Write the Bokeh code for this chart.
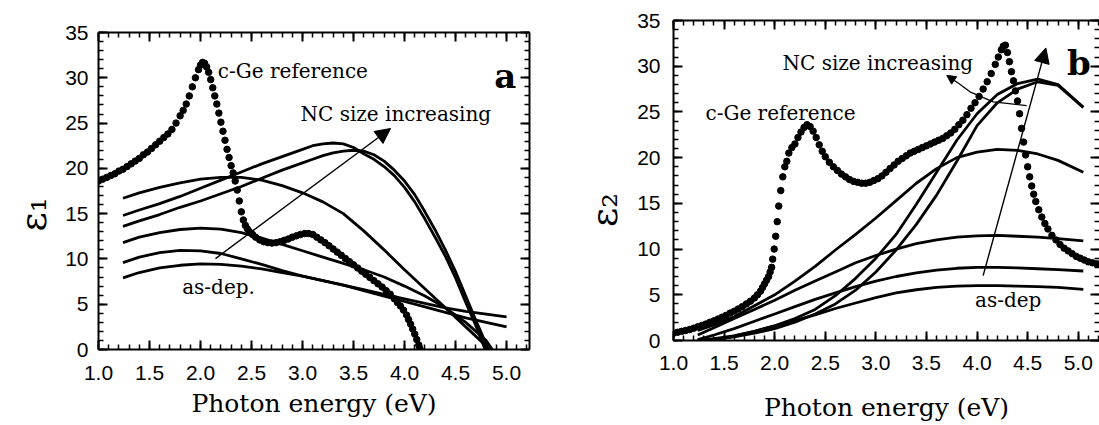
import numpy as np
from bokeh.plotting import figure
from bokeh.layouts import row
from bokeh.models import (FixedTicker, LinearAxis, NumeralTickFormatter, Range1d,
                          Label, Arrow, NormalHead, CustomJSTickFormatter)
from bokeh.embed import file_html
from bokeh.resources import INLINE

# ---------------- panel a : epsilon_1 ----------------
ref1_E = [1.00, 1.04, 1.08, 1.12, 1.16, 1.20, 1.24, 1.28, 1.32, 1.36, 1.40, 1.44, 1.48, 1.52,
          1.56, 1.60, 1.64, 1.68, 1.72, 1.76, 1.80, 1.83, 1.86, 1.89, 1.92, 1.95, 1.98, 2.00,
          2.02, 2.04, 2.06, 2.08, 2.10, 2.12, 2.14, 2.16, 2.18, 2.20, 2.22, 2.24, 2.26, 2.28,
          2.30, 2.32, 2.34, 2.36, 2.38, 2.40, 2.42, 2.44, 2.46, 2.48, 2.51, 2.54, 2.58, 2.62,
          2.66, 2.70, 2.74, 2.78, 2.82, 2.86, 2.90, 2.94, 2.98, 3.02, 3.06, 3.10, 3.14, 3.18,
          3.22, 3.26, 3.30, 3.34, 3.38, 3.42, 3.46, 3.50, 3.54, 3.58, 3.62, 3.66, 3.70, 3.74,
          3.78, 3.82, 3.86, 3.90, 3.93, 3.96, 3.99, 4.02, 4.04, 4.06, 4.08, 4.10, 4.12, 4.14, 4.15]
ref1_v = [18.6, 18.8, 19.0, 19.2, 19.4, 19.7, 19.9, 20.2, 20.5, 20.8, 21.1, 21.5, 21.8, 22.2,
          22.6, 23.0, 23.4, 23.8, 24.3, 25.0, 25.8, 26.4, 27.1, 28.0, 29.0, 30.0, 30.9, 31.4,
          31.7, 31.6, 31.2, 30.6, 29.8, 28.9, 28.0, 27.1, 26.1, 25.1, 24.1, 23.1, 22.1, 21.2,
          20.3, 19.5, 18.6, 17.6, 16.4, 15.2, 14.3, 13.7, 13.3, 13.0, 12.7, 12.4, 12.1, 11.9,
          11.8, 11.75, 11.8, 11.9, 12.05, 12.2, 12.4, 12.55, 12.7, 12.8, 12.8, 12.7, 12.4, 12.1,
          11.8, 11.45, 11.1, 10.75, 10.4, 10.05, 9.7, 9.35, 9.0, 8.65, 8.3, 7.95, 7.6, 7.25,
          6.9, 6.5, 6.1, 5.6, 5.2, 4.8, 4.35, 3.8, 3.3, 2.8, 2.25, 1.7, 1.1, 0.5, 0.1]

a_E = [1.24, 1.4, 1.6, 1.8, 2.0, 2.2, 2.4, 2.6, 2.8, 3.0, 3.2, 3.4, 3.6, 3.8, 4.0, 4.2, 4.4, 4.6, 4.8, 4.83]
a_v = [16.7, 17.3, 17.9, 18.4, 18.8, 19.0, 19.0, 18.7, 18.1, 17.3, 16.3, 15.0, 13.1, 11.0, 8.8, 6.7, 4.6, 2.5, 0.4, 0.0]

b_E = [1.24, 1.4, 1.6, 1.8, 2.0, 2.2, 2.4, 2.6, 2.8, 3.0, 3.1, 3.2, 3.3, 3.4, 3.5, 3.6, 3.7, 3.8,
       3.9, 4.0, 4.1, 4.2, 4.3, 4.4, 4.5, 4.6, 4.7, 4.79]
b_v = [14.8, 15.4, 16.1, 16.9, 17.8, 18.7, 19.6, 20.5, 21.3, 22.1, 22.5, 22.7, 22.8, 22.7, 22.3, 21.6,
       21.0, 20.2, 19.2, 17.9, 16.3, 14.4, 12.4, 10.3, 7.9, 5.2, 2.6, 0.0]

c_E = [1.24, 1.4, 1.6, 1.8, 2.0, 2.2, 2.4, 2.6, 2.8, 3.0, 3.1, 3.2, 3.3, 3.4, 3.5, 3.6, 3.7, 3.8,
       3.9, 4.0, 4.1, 4.2, 4.3, 4.4, 4.5, 4.6, 4.7, 4.8, 4.82]
c_v = [13.6, 14.2, 14.9, 15.7, 16.4, 17.2, 18.0, 18.9, 19.8, 20.6, 21.0, 21.4, 21.7, 21.9, 22.0, 21.9,
       21.5, 20.8, 19.8, 18.6, 17.1, 15.2, 13.2, 11.0, 8.6, 5.9, 3.2, 0.6, 0.0]

d_E = [1.24, 1.4, 1.6, 1.8, 2.0, 2.2, 2.4, 2.6, 2.8, 3.0, 3.2, 3.4, 3.6, 3.8, 4.0, 4.2, 4.4, 4.6, 4.8, 4.86]
d_v = [11.8, 12.4, 12.9, 13.25, 13.4, 13.3, 12.9, 12.3, 11.6, 10.9, 10.2, 9.5, 8.8, 8.0, 7.0, 5.9, 4.6, 3.0, 1.0, 0.0]

ef_E = [1.24, 1.4, 1.6, 1.8, 2.0, 2.2, 2.4, 2.6, 2.8, 3.0, 3.2, 3.4, 3.6, 3.8, 4.0, 4.2, 4.4, 4.6, 4.8, 5.0]
e_v = [9.6, 10.2, 10.7, 10.95, 10.9, 10.6, 10.0, 9.4, 8.7, 8.1, 7.6, 7.1, 6.5, 5.9, 5.3, 4.7, 4.1, 3.5, 3.0, 2.5]
f_v = [7.9, 8.5, 9.0, 9.3, 9.45, 9.4, 9.2, 8.9, 8.5, 8.1, 7.6, 7.1, 6.6, 6.1, 5.6, 5.1, 4.6, 4.2, 3.9, 3.6]

# ---------------- panel b : epsilon_2 ----------------
ref2_E = [1.00, 1.04, 1.08, 1.12, 1.16, 1.20, 1.24, 1.28, 1.32, 1.36, 1.40, 1.44, 1.48, 1.52, 1.56,
          1.60, 1.64, 1.68, 1.72, 1.76, 1.80, 1.83, 1.86, 1.88, 1.90, 1.92, 1.94, 1.955, 1.97, 1.98,
          1.995, 2.01, 2.025, 2.04, 2.06, 2.08, 2.10, 2.12, 2.14, 2.17, 2.20, 2.23, 2.26, 2.29, 2.32,
          2.35, 2.38, 2.41, 2.44, 2.47, 2.50, 2.54, 2.58, 2.62, 2.66, 2.70, 2.74, 2.78, 2.82, 2.86,
          2.90, 2.94, 2.98, 3.02, 3.06, 3.10, 3.14, 3.18, 3.22, 3.26, 3.30, 3.34, 3.38, 3.42, 3.46,
          3.50, 3.54, 3.58, 3.62, 3.66, 3.70, 3.74, 3.78, 3.82, 3.86, 3.90, 3.94, 3.98, 4.02, 4.06,
          4.10, 4.14, 4.18, 4.21, 4.24, 4.26, 4.28, 4.30, 4.32, 4.34, 4.36, 4.38, 4.40, 4.42, 4.44,
          4.46, 4.48, 4.50, 4.52, 4.54, 4.56, 4.58, 4.61, 4.64, 4.67, 4.70, 4.74, 4.78, 4.82, 4.86,
          4.90, 4.94, 4.98, 5.02, 5.06, 5.10, 5.14, 5.18, 5.22]
ref2_v = [0.8, 0.9, 1.0, 1.1, 1.2, 1.35, 1.5, 1.65, 1.8, 2.0, 2.15, 2.35, 2.55, 2.75, 3.0,
          3.2, 3.45, 3.7, 4.0, 4.3, 4.65, 5.0, 5.4, 5.8, 6.2, 6.6, 7.0, 7.5, 8.0, 8.9,
          10.0, 11.4, 13.0, 14.7, 16.4, 17.9, 19.0, 19.6, 20.5, 21.1, 21.5, 22.2, 22.8, 23.3, 23.6,
          23.4, 22.9, 22.2, 21.4, 20.7, 20.1, 19.5, 19.0, 18.6, 18.2, 17.9, 17.6, 17.4, 17.3, 17.2,
          17.2, 17.3, 17.5, 17.7, 18.0, 18.4, 18.8, 19.2, 19.6, 19.9, 20.2, 20.5, 20.7, 20.9, 21.1,
          21.3, 21.5, 21.7, 21.9, 22.1, 22.4, 22.7, 23.1, 23.6, 24.1, 24.7, 25.4, 26.0, 26.7, 27.5,
          28.3, 29.2, 30.2, 31.0, 31.8, 32.2, 32.3, 31.5, 30.5, 29.4, 28.4, 27.3, 26.2, 24.8, 23.2,
          21.7, 20.3, 19.0, 17.9, 16.9, 16.0, 15.2, 14.3, 13.5, 12.8, 12.2, 11.5, 11.0, 10.5, 10.1,
          9.8, 9.5, 9.2, 9.0, 8.8, 8.6, 8.5, 8.4, 8.3]

nc2_E = [1.24, 1.4, 1.6, 1.8, 2.0, 2.2, 2.4, 2.6, 2.8, 3.0, 3.2, 3.4, 3.6, 3.8, 4.0, 4.2, 4.4, 4.6, 4.8, 5.05]
a2_v = [1.1, 1.7, 2.6, 3.8, 5.0, 6.5, 8.1, 9.9, 11.6, 13.4, 15.3, 17.2, 18.8, 20.0, 20.6, 20.9, 20.8, 20.4, 19.7, 18.4]
b2_v = [0.0, 0.2, 0.5, 1.0, 1.6, 2.4, 3.4, 4.9, 6.8, 9.0, 11.6, 14.9, 18.4, 21.9, 24.8, 26.9, 28.1, 28.6, 28.0, 25.5]
c2_v = [0.0, 0.1, 0.4, 0.8, 1.3, 2.0, 2.9, 4.0, 5.5, 7.5, 9.9, 12.7, 15.9, 19.6, 23.5, 26.0, 27.5, 28.3, 27.9, 25.5]
l2_v = [0.6, 1.4, 2.4, 3.4, 4.4, 5.5, 6.5, 7.5, 8.5, 9.3, 10.0, 10.6, 11.0, 11.3, 11.45, 11.5, 11.4, 11.3, 11.15, 10.9]
l3_v = [0.1, 0.6, 1.3, 2.1, 2.9, 3.7, 4.5, 5.2, 5.9, 6.5, 7.0, 7.4, 7.7, 7.9, 8.0, 8.0, 7.95, 7.85, 7.75, 7.6]
l4_v = [0.0, 0.1, 0.5, 1.0, 1.6, 2.2, 2.8, 3.5, 4.1, 4.7, 5.2, 5.55, 5.8, 5.95, 6.0, 6.0, 5.95, 5.9, 5.8, 5.6]

x_major = [1.0, 1.5, 2.0, 2.5, 3.0, 3.5, 4.0, 4.5, 5.0]
x_minor = [round(v, 1) for v in np.arange(1.0, 5.3, 0.1)]
y_major = [0, 5, 10, 15, 20, 25, 30, 35]
y_minor = list(range(0, 36))

SERIF = "DejaVu Serif"
SANS = "Liberation Sans"
NBSP = "\u00a0"


def style_axis(ax, ticks, minor, labels=True, standoff=10, fmt=None, line=True):
    ax.ticker = FixedTicker(ticks=ticks, minor_ticks=minor)
    ax.major_tick_in = 9
    ax.major_tick_out = 0
    ax.minor_tick_in = 5
    ax.minor_tick_out = 0
    ax.major_tick_line_width = 2
    ax.minor_tick_line_width = 1.5
    ax.major_tick_line_color = "black"
    ax.minor_tick_line_color = "black"
    ax.axis_line_width = 2
    ax.axis_line_color = "black" if line else None
    if labels:
        if fmt is not None:
            ax.formatter = fmt
        ax.major_label_text_font = SANS
        ax.major_label_text_font_size = "21px"
        ax.major_label_text_color = "black"
        ax.major_label_standoff = standoff
    else:
        ax.formatter = CustomJSTickFormatter(code="return ''")
        ax.major_label_standoff = 0


def make_panel(width, height, bl, br, bt, bb, xend, ylabel, ystand, lstand, xtick_stand, xstand,
               right_line=True):
    p = figure(width=width, height=height, output_backend="svg", toolbar_location=None,
               x_range=Range1d(1.0, xend), y_range=Range1d(0, 35),
               min_border_left=bl, min_border_right=br, min_border_top=bt, min_border_bottom=bb)
    try:
        p.frame_align = False
    except Exception:
        pass
    p.outline_line_color = None
    p.xgrid.visible = False
    p.ygrid.visible = False
    p.background_fill_color = "white"
    p.border_fill_color = "white"
    xa = p.xaxis[0]
    ya = p.yaxis[0]
    style_axis(xa, x_major, x_minor, standoff=xtick_stand, fmt=NumeralTickFormatter(format="0.0"))
    style_axis(ya, y_major, y_minor, standoff=ystand)
    xa.axis_label = "Photon energy (eV)"
    xa.axis_label_text_font = SERIF
    xa.axis_label_text_font_style = "normal"
    xa.axis_label_text_font_size = "25px"
    xa.axis_label_text_color = "black"
    xa.axis_label_standoff = xstand
    ya.axis_label = ylabel
    ya.axis_label_text_font = SERIF
    ya.axis_label_text_font_style = "normal"
    ya.axis_label_text_font_size = "37px"
    ya.axis_label_text_color = "black"
    ya.axis_label_standoff = lstand
    top = LinearAxis()
    style_axis(top, x_major, x_minor, labels=False)
    p.add_layout(top, "above")
    right = LinearAxis()
    style_axis(right, y_major, y_minor, labels=False, line=right_line)
    p.add_layout(right, "right")
    return p


def add_text(p, x, y, text, size="20px", bold=False):
    p.add_layout(Label(x=x, y=y, text=text, text_font=SERIF, text_font_size=size,
                       text_font_style="bold" if bold else "normal",
                       text_baseline="middle", text_align="left", text_color="black"))


# ---- panel a ----
p1 = make_panel(560, 425, 98, 31, 32, 76, 5.225, "ε₁" + NBSP * 4, 10, 7, 16, 6)
for xs, ys in [(a_E, a_v), (b_E, b_v), (c_E, c_v), (d_E, d_v), (ef_E, e_v), (ef_E, f_v)]:
    p1.line(xs, ys, line_color="black", line_width=2.8, line_join="round")
p1.scatter(ref1_E, ref1_v, marker="circle", size=6.5, color="black")

arrow1_tail = (2.147, 10.04)
arrow1_head = (3.863, 24.4)
p1.add_layout(Arrow(end=NormalHead(size=15, fill_color="black", line_color="black"),
                    x_start=arrow1_tail[0], y_start=arrow1_tail[1],
                    x_end=arrow1_head[0], y_end=arrow1_head[1], line_width=1.4))
add_text(p1, 2.17, 30.7, "c-Ge reference")
add_text(p1, 2.98, 26.0, "NC size increasing")
add_text(p1, 1.82, 6.85, "as-dep.")
add_text(p1, 4.88, 30.2, "a", size="34px", bold=True)

# ---- panel b ----
p2 = make_panel(539, 425, 113, 0, 20, 85, 5.21, "ε₂" + NBSP * 5, 13, 8, 15, 20, right_line=False)
for ys in [a2_v, b2_v, c2_v, l2_v, l3_v, l4_v]:
    p2.line(nc2_E, ys, line_color="black", line_width=2.8, line_join="round")
p2.scatter(ref2_E, ref2_v, marker="circle", size=6.5, color="black")

curve_x = [4.49, 4.16, 3.93, 3.82]
curve_y = [25.7, 26.1, 27.2, 28.1]
p2.line(curve_x, curve_y, line_color="black", line_width=1.3)
p2.add_layout(Arrow(end=NormalHead(size=9, fill_color="black", line_color="black"),
                    x_start=3.82, y_start=28.1, x_end=3.70, y_end=29.0, line_width=1.3))
arrow2_tail = (4.06, 7.1)
arrow2_head = (4.68, 32.0)
p2.add_layout(Arrow(end=NormalHead(size=15, fill_color="black", line_color="black"),
                    x_start=arrow2_tail[0], y_start=arrow2_tail[1],
                    x_end=arrow2_head[0], y_end=arrow2_head[1], line_width=1.4))
add_text(p2, 1.316, 24.9, "c-Ge reference")
add_text(p2, 2.077, 30.3, "NC size increasing")
add_text(p2, 3.98, 4.4, "as-dep")
add_text(p2, 4.89, 30.3, "b", size="34px", bold=True)

layout = row(p1, p2)
open("out.html", "w").write(file_html(layout, INLINE))
